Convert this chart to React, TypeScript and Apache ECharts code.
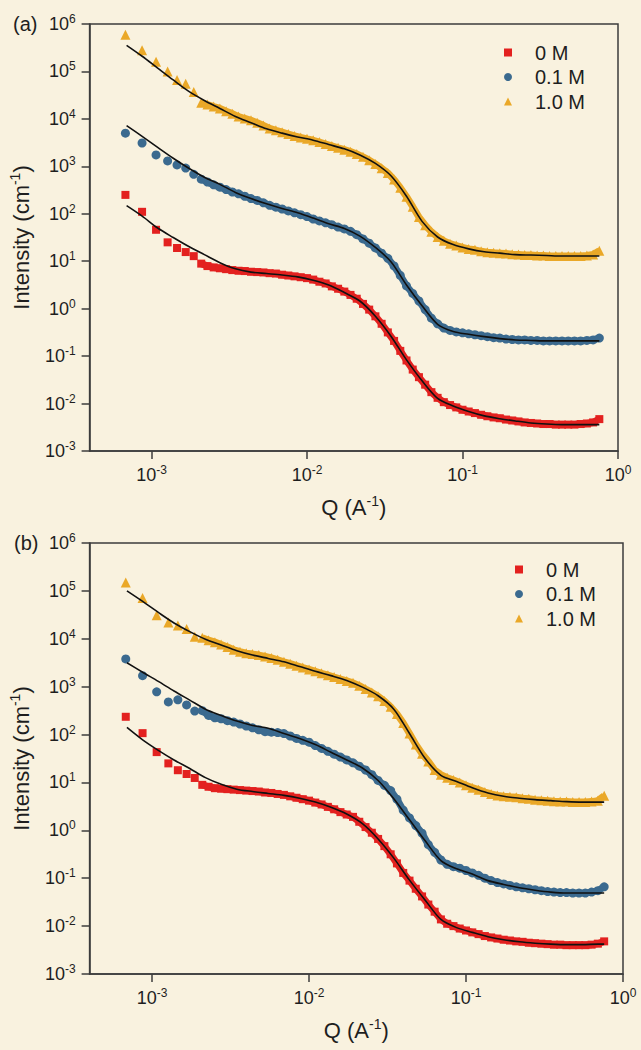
import React, { useEffect, useRef } from "react";
import * as echarts from "echarts";

// ---------- Q grids (Å^-1) ----------
const qSparse = [6.8e-4, 8.7e-4, 1.07e-3, 1.27e-3, 1.46e-3, 1.66e-3, 1.87e-3];
const qDense = [
  0.002089, 0.002291, 0.002512, 0.002754, 0.00302, 0.003311, 0.003631, 0.003981, 0.004365, 0.004786,
  0.005248, 0.005754, 0.00631, 0.006918, 0.007586, 0.008318, 0.00912,
  0.01, 0.01096, 0.01202, 0.01318, 0.01445, 0.01585, 0.01738, 0.01905, 0.02089, 0.02291, 0.02512,
  0.02754, 0.0302, 0.03311, 0.03631, 0.03981, 0.04365, 0.04786, 0.05248, 0.05754, 0.0631, 0.06918,
  0.07586, 0.08318, 0.0912,
  0.1, 0.1096, 0.1202, 0.1318, 0.1445, 0.1585, 0.1738, 0.1905, 0.2089, 0.2291, 0.2512, 0.2754, 0.302,
  0.3311, 0.3631, 0.3981, 0.4365, 0.4786, 0.5248, 0.5754, 0.631, 0.6918, 0.7586,
];
const qFit = [
  6.918e-4, 8.71e-4, 1.096e-3, 1.38e-3, 1.738e-3, 2.188e-3, 2.754e-3, 3.467e-3, 4.365e-3, 5.495e-3,
  6.918e-3, 8.71e-3, 0.01096, 0.0138, 0.01738, 0.02188, 0.02754, 0.03467, 0.04365, 0.05495, 0.06918,
  0.0871, 0.1096, 0.138, 0.1738, 0.2188, 0.2754, 0.3467, 0.4365, 0.5495, 0.6918, 0.7586,
];

// ---------- Panel (a) ----------
const a0MSparse = [250, 110, 46, 25, 19, 15.6, 12.8];
const a0MDense = [
  8.9, 7.9, 7.4, 7.1, 6.8, 6.5, 6.3, 6.2, 6.0, 5.9, 5.8, 5.6, 5.5, 5.2, 5.0, 4.8, 4.6,
  4.4, 4.1, 3.7, 3.4, 2.95, 2.63, 2.29, 1.95, 1.62, 1.26, 0.955, 0.69, 0.48, 0.316, 0.209, 0.129,
  0.081, 0.052, 0.036, 0.025, 0.0174, 0.0132, 0.0107, 0.0093, 0.0083,
  0.0074, 0.0068, 0.0063, 0.0058, 0.0054, 0.0051, 0.0049, 0.0046, 0.0044, 0.0042, 0.004, 0.0039,
  0.0038, 0.0037, 0.0037, 0.0036, 0.0036, 0.0036, 0.0036, 0.0037, 0.0038, 0.004, 0.0047,
];
const a01MSparse = [5000, 3100, 1740, 1300, 1070, 920, 680];
const a01MDense = [
  537, 468, 407, 363, 324, 288, 263, 234, 209, 191, 170, 151, 138, 126, 115, 105, 95.5,
  87.1, 77.6, 70.8, 64.6, 58.9, 52.5, 47.9, 42.7, 36.3, 29.5, 24.0, 19.1, 14.8, 11.5, 7.94, 5.01,
  3.02, 2.09, 1.45, 0.955, 0.631, 0.479, 0.389, 0.347, 0.324,
  0.309, 0.295, 0.282, 0.269, 0.257, 0.245, 0.24, 0.229, 0.224, 0.219, 0.219, 0.214, 0.214, 0.209,
  0.209, 0.209, 0.209, 0.209, 0.209, 0.209, 0.214, 0.219, 0.24,
];
const a1MSparse = [590000, 280000, 160000, 100000, 66000, 55000, 37000];
const a1MDense = [
  21900, 20000, 18200, 16600, 14450, 12900, 11200, 10200, 9330, 8320, 7240, 6310, 5750, 5250, 4790,
  4370, 4070,
  3800, 3550, 3240, 2950, 2690, 2450, 2240, 2040, 1820, 1585, 1350, 1120, 912, 724, 525, 355, 229,
  141, 85.1, 57.5, 41.7, 32.4, 26.9, 23.4, 21.4,
  19.5, 18.2, 17.4, 16.2, 15.5, 15.1, 14.8, 14.5, 14.1, 13.8, 13.5, 13.5, 13.2, 13.2, 12.9, 12.9,
  12.9, 12.9, 12.9, 12.9, 13.2, 13.8, 16.6,
];
const aFit0M = [
  148, 89.1, 50.1, 31.6, 20.4, 13.8, 9.33, 6.92, 5.89, 5.5, 5.13, 4.68, 3.98, 3.16, 2.19, 1.45, 0.692,
  0.263, 0.0832, 0.0302, 0.0129, 0.0089, 0.0068, 0.0055, 0.0048, 0.0043, 0.0039, 0.0037, 0.0036,
  0.0036, 0.0036, 0.0036,
];
const aFit01M = [
  7240, 4270, 2510, 1480, 912, 589, 417, 282, 209, 162, 129, 105, 81.3, 61.7, 49.0, 33.9, 19.5, 9.77,
  3.16, 1.15, 0.468, 0.331, 0.288, 0.257, 0.234, 0.219, 0.214, 0.209, 0.209, 0.209, 0.209, 0.209,
];
const aFit1M = [
  355000, 209000, 117500, 66100, 38000, 24500, 16600, 11200, 8320, 6170, 5010, 4170, 3550, 2880,
  2340, 1740, 1150, 631, 234, 69.2, 32.4, 22.4, 18.2, 15.8, 14.8, 13.8, 13.5, 13.2, 12.9, 12.9, 12.9,
  12.9,
];

// ---------- Panel (b) ----------
const b0MSparse = [235, 107, 43, 25, 18, 15, 12.4];
const b0MDense = [
  8.91, 8.13, 7.59, 7.41, 7.24, 7.08, 6.92, 6.76, 6.61, 6.46, 6.17, 6.03, 5.75, 5.5, 5.13, 4.79, 4.47,
  4.17, 3.8, 3.47, 3.09, 2.75, 2.4, 2.14, 1.91, 1.51, 1.17, 0.891, 0.661, 0.468, 0.316, 0.204, 0.129,
  0.0891, 0.0603, 0.0417, 0.0282, 0.02, 0.0138, 0.0112, 0.01, 0.0089,
  0.0081, 0.0074, 0.0068, 0.0062, 0.0058, 0.0055, 0.0052, 0.005, 0.0048, 0.0047, 0.0045, 0.0044,
  0.0043, 0.0042, 0.0041, 0.0041, 0.004, 0.004, 0.004, 0.004, 0.0041, 0.0043, 0.0048,
];
const b01MSparse = [3800, 1700, 780, 480, 530, 415, 310];
const b01MDense = [
  316, 251, 224, 214, 195, 182, 166, 151, 138, 126, 115, 112, 110, 105, 93.3, 83.2, 75.9,
  69.2, 58.9, 51.3, 44.7, 38.9, 33.9, 29.5, 25.7, 21.9, 18.2, 14.5, 11.0, 8.71, 6.76, 4.47, 2.63, 1.82,
  1.26, 0.871, 0.501, 0.347, 0.24, 0.195, 0.174, 0.162,
  0.145, 0.129, 0.115, 0.1, 0.0891, 0.0813, 0.0759, 0.0708, 0.0661, 0.0631, 0.0603, 0.0575, 0.055,
  0.0525, 0.0513, 0.0501, 0.0501, 0.049, 0.049, 0.049, 0.0513, 0.055, 0.0661,
];
const b1MSparse = [150000, 71000, 31000, 22000, 19000, 16000, 11000];
const b1MDense = [
  10470, 9330, 8510, 7590, 6760, 5890, 5370, 5010, 4790, 4570, 4270, 3980, 3630, 3310, 3020, 2750,
  2510,
  2290, 2090, 1905, 1740, 1585, 1445, 1318, 1202, 1047, 891, 759, 631, 501, 380, 269, 174, 105, 61.7,
  39.8, 27.5, 18.2, 14.5, 12.6, 11.2, 10.0,
  8.71, 7.76, 7.08, 6.31, 5.75, 5.37, 5.13, 5.01, 4.9, 4.68, 4.57, 4.37, 4.27, 4.17, 4.07, 3.98, 3.98,
  3.89, 3.89, 3.89, 3.98, 4.17, 5.25,
];
const bFit0M = [
  141, 77.6, 46.8, 29.5, 19.5, 12.6, 9.12, 7.24, 6.46, 5.89, 5.37, 4.68, 3.89, 3.02, 2.19, 1.38, 0.661,
  0.263, 0.0912, 0.0347, 0.0138, 0.0093, 0.0074, 0.006, 0.0052, 0.0047, 0.0044, 0.0042, 0.0041,
  0.0041, 0.0042, 0.0042,
];
const bFit01M = [
  3160, 2000, 1290, 813, 525, 339, 251, 191, 155, 135, 105, 83.2, 61.7, 42.7, 29.5, 20.0, 11.0, 4.57,
  1.66, 0.603, 0.234, 0.158, 0.123, 0.0891, 0.0741, 0.0631, 0.0562, 0.0513, 0.049, 0.049, 0.049, 0.049,
];
const bFit1M = [
  100000, 60300, 35500, 21400, 14100, 9770, 7410, 5620, 4570, 3890, 3310, 2630, 2090, 1700, 1350, 977,
  646, 339, 105, 31.6, 14.1, 10.5, 7.76, 6.03, 5.13, 4.68, 4.37, 4.17, 3.98, 3.89, 3.89, 3.89,
];

const seriesNames = ["0 M", "0.1 M", "1.0 M"];
const xTickValues = [0.001, 0.01, 0.1, 1];
const yTickValues = [1e-3, 1e-2, 1e-1, 1, 10, 100, 1e3, 1e4, 1e5, 1e6];

const COLORS = ["#e3211f", "#3b6a8f", "#eaa828"];
const SYMBOLS = ["rect", "circle", "triangle"];
const SIZES = [8, 9, 10];
const FONT = "Liberation Sans, Arial, sans-serif";
const AXIS_COLOR = "#3c3c3c";
const TEXT_COLOR = "#1e1e1e";

const zip = (qs: number[], vs: number[]) => qs.map((q, i) => [q, vs[i]]);

const supFmt = (v: number) => {
  const e = Math.log10(v);
  const r = Math.round(e);
  if (Math.abs(e - r) > 1e-6) return "";
  return "{b|10}{sup|" + r + "}";
};

const labelRich = {
  b: { fontSize: 18, lineHeight: 22, color: TEXT_COLOR, fontFamily: FONT },
  sup: { fontSize: 12, verticalAlign: "top", lineHeight: 12, color: TEXT_COLOR, fontFamily: FONT },
};

const nameRich = {
  n: { fontSize: 22, lineHeight: 26, color: TEXT_COLOR, fontFamily: FONT },
  sup: { fontSize: 14, verticalAlign: "top", lineHeight: 14, color: TEXT_COLOR, fontFamily: FONT },
};

function makeX(gridIndex: number) {
  return {
    type: "log",
    logBase: 10,
    gridIndex,
    min: 4e-4,
    max: 1,
    name: "{n|Q (A}{sup|-1}{n|)}",
    nameLocation: "middle",
    nameGap: 43,
    nameTextStyle: { fontSize: 22, color: TEXT_COLOR, fontFamily: FONT, lineHeight: 26, rich: nameRich },
    axisLine: { show: true, lineStyle: { color: AXIS_COLOR, width: 1.5 } },
    axisTick: { show: true, inside: false, length: 8, customValues: xTickValues, lineStyle: { color: AXIS_COLOR, width: 1.5 } },
    minorTick: { show: false },
    splitLine: { show: false },
    axisLabel: {
      customValues: xTickValues,
      formatter: supFmt,
      fontSize: 18,
      margin: 13,
      color: TEXT_COLOR,
      fontFamily: FONT,
      rich: labelRich,
    },
  };
}

function makeY(gridIndex: number) {
  return {
    type: "log",
    logBase: 10,
    gridIndex,
    min: 1e-3,
    max: 1e6,
    name: "{n|Intensity (cm}{sup|-1}{n|)}",
    nameLocation: "middle",
    nameRotate: 90,
    nameGap: 47,
    nameTextStyle: { fontSize: 22, color: TEXT_COLOR, fontFamily: FONT, lineHeight: 26, rich: nameRich },
    axisLine: { show: true, lineStyle: { color: AXIS_COLOR, width: 1.5 } },
    axisTick: { show: true, inside: false, length: 8, customValues: yTickValues, lineStyle: { color: AXIS_COLOR, width: 1.5 } },
    minorTick: { show: false },
    splitLine: { show: false },
    axisLabel: {
      customValues: yTickValues,
      formatter: supFmt,
      fontSize: 18,
      margin: 14,
      color: TEXT_COLOR,
      fontFamily: FONT,
      rich: labelRich,
    },
  };
}

function scatter(name: string, idx: number, panel: number, sparse: number[], dense: number[]) {
  return {
    type: "scatter",
    name,
    xAxisIndex: panel,
    yAxisIndex: panel,
    symbol: SYMBOLS[idx],
    symbolSize: SIZES[idx],
    itemStyle: { color: COLORS[idx], opacity: 1 },
    data: zip(qSparse, sparse).concat(zip(qDense, dense)),
    z: 3,
  };
}

// the densely measured points overlap into a continuous band
function band(idx: number, panel: number, dense: number[]) {
  return {
    type: "line",
    name: "band" + panel + idx,
    xAxisIndex: panel,
    yAxisIndex: panel,
    showSymbol: false,
    symbol: "none",
    lineStyle: { color: COLORS[idx], width: 7 },
    data: zip(qDense, dense),
    silent: true,
    z: 2,
  };
}

function fit(panel: number, vals: number[]) {
  return {
    type: "line",
    name: "fit",
    xAxisIndex: panel,
    yAxisIndex: panel,
    showSymbol: false,
    symbol: "none",
    smooth: 0.3,
    lineStyle: { color: "#111111", width: 1.6 },
    data: zip(qFit, vals),
    z: 5,
  };
}

function makeLegend(left: number, top: number) {
  return {
    data: seriesNames,
    orient: "vertical",
    left,
    top,
    itemWidth: 8,
    itemHeight: 8,
    itemGap: 3.5,
    selectedMode: false,
    textStyle: { fontSize: 20, color: TEXT_COLOR, fontFamily: FONT, padding: [0, 0, 0, 18], lineHeight: 21 },
  };
}

export default function App() {
  const ref = useRef<HTMLDivElement>(null);
  useEffect(() => {
    if (!ref.current) return;
    const chart = echarts.init(ref.current, null, { renderer: "svg" });
    chart.setOption({
      animation: false,
      backgroundColor: "#f9f2df",
      textStyle: { fontFamily: FONT },
      grid: [
        { left: 86, top: 24, right: 23, bottom: 599, containLabel: false, show: true, borderColor: AXIS_COLOR, borderWidth: 1.5, backgroundColor: "transparent" },
        { left: 89, top: 543, right: 18, bottom: 76, containLabel: false, show: true, borderColor: AXIS_COLOR, borderWidth: 1.5, backgroundColor: "transparent" },
      ],
      xAxis: [makeX(0), makeX(1)],
      yAxis: [makeY(0), makeY(1)],
      legend: [makeLegend(499, 37), makeLegend(510, 554)],
      graphic: [
        { type: "text", left: 13, top: 14, style: { text: "(a)", fontSize: 20, fill: TEXT_COLOR, fontFamily: FONT } },
        { type: "text", left: 14, top: 533, style: { text: "(b)", fontSize: 20, fill: TEXT_COLOR, fontFamily: FONT } },
      ],
      series: [
        band(0, 0, a0MDense),
        band(1, 0, a01MDense),
        band(2, 0, a1MDense),
        scatter(seriesNames[0], 0, 0, a0MSparse, a0MDense),
        scatter(seriesNames[1], 1, 0, a01MSparse, a01MDense),
        scatter(seriesNames[2], 2, 0, a1MSparse, a1MDense),
        fit(0, aFit0M),
        fit(0, aFit01M),
        fit(0, aFit1M),
        band(0, 1, b0MDense),
        band(1, 1, b01MDense),
        band(2, 1, b1MDense),
        scatter(seriesNames[0], 0, 1, b0MSparse, b0MDense),
        scatter(seriesNames[1], 1, 1, b01MSparse, b01MDense),
        scatter(seriesNames[2], 2, 1, b1MSparse, b1MDense),
        fit(1, bFit0M),
        fit(1, bFit01M),
        fit(1, bFit1M),
      ],
    });
    return () => chart.dispose();
  }, []);
  return (
    <div
      ref={ref}
      style={{ position: "absolute", left: 0, top: 0, width: 641, height: 1050, background: "#f9f2df" }}
    />
  );
}
